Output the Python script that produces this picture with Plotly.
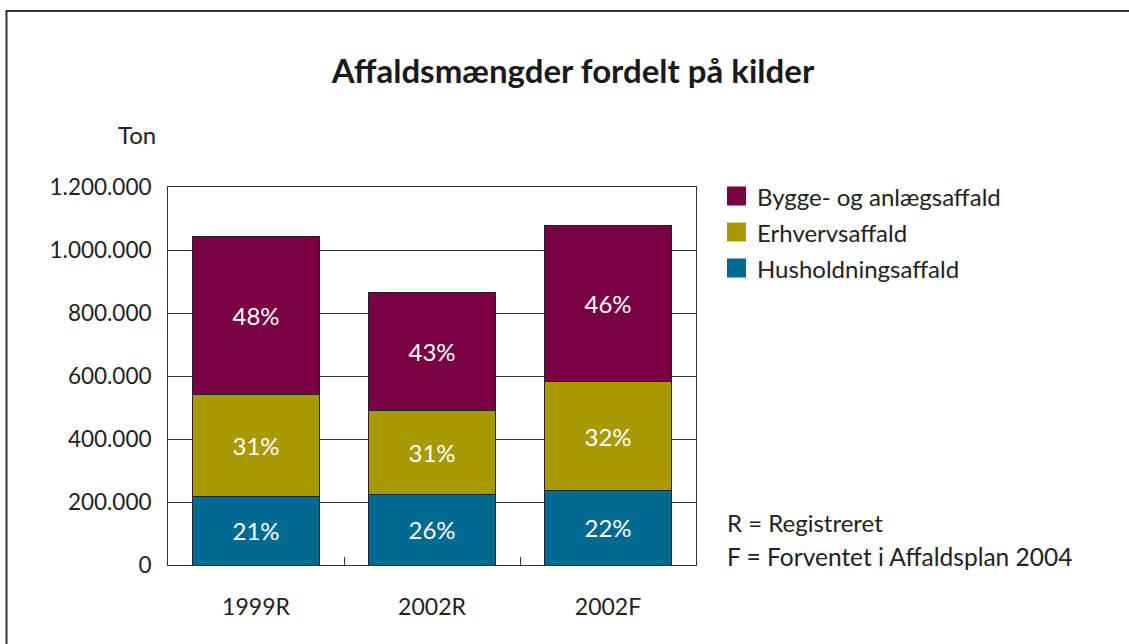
import plotly.graph_objects as go

categories = ["1999R", "2002R", "2002F"]
series_names = ["Husholdningsaffald", "Erhvervsaffald", "Bygge- og anlægsaffald"]
husholdning = [219000, 223000, 236000]
erhverv = [323000, 269000, 345000]
bygge = [500000, 372000, 497000]
husholdning_pct = ["21%", "26%", "22%"]
erhverv_pct = ["31%", "31%", "32%"]
bygge_pct = ["48%", "43%", "46%"]
colors = ["#006A91", "#A89A00", "#7A0044"]
y_ticks = [0, 200000, 400000, 600000, 800000, 1000000, 1200000]

FONT = "Lato"
TXT = "#222222"
W, H = 1129, 644
L, R, T, B = 168, 696, 187, 565


def px(x):
    return (x - L) / (R - L)


def py(y):
    return (B - y) / (B - T)


fig = go.Figure()
for name, vals, pct, col in zip(series_names, [husholdning, erhverv, bygge],
                                [husholdning_pct, erhverv_pct, bygge_pct], colors):
    fig.add_trace(go.Bar(
        x=categories, y=vals, name=name, text=pct,
        textposition="inside", insidetextanchor="middle",
        textfont=dict(family=FONT, size=24, color="white"),
        marker=dict(color=col, line=dict(color="#222222", width=1)),
        showlegend=False, hoverinfo="skip",
    ))

shapes = []
annotations = []
# outer frame
shapes.append(dict(type="rect", xref="paper", yref="paper",
                   x0=px(6.5), x1=px(1200), y0=py(11), y1=py(720),
                   line=dict(color="#333333", width=2), fillcolor="rgba(0,0,0,0)", layer="below"))

# manual legend (top to bottom: bygge, erhverv, husholdning)
leg_order = [2, 1, 0]
for i, idx in enumerate(leg_order):
    cy = 196 + 36 * i
    shapes.append(dict(type="rect", xref="paper", yref="paper",
                       x0=px(727), x1=px(746), y0=py(cy - 9.5), y1=py(cy + 9.5),
                       fillcolor=colors[idx], line=dict(width=0)))
    annotations.append(dict(text=series_names[idx], xref="paper", yref="paper",
                            x=px(755), y=py(cy), xanchor="left", yanchor="middle",
                            showarrow=False, font=dict(family=FONT, size=24, color=TXT)))

annotations.append(dict(text="R = Registreret", xref="paper", yref="paper",
                        x=px(725), y=py(522), xanchor="left", yanchor="middle",
                        showarrow=False, font=dict(family=FONT, size=24, color=TXT)))
annotations.append(dict(text="F = Forventet i Affaldsplan 2004", xref="paper", yref="paper",
                        x=px(725), y=py(556), xanchor="left", yanchor="middle",
                        showarrow=False, font=dict(family=FONT, size=24.5, color=TXT)))
annotations.append(dict(text="Ton", xref="paper", yref="paper",
                        x=px(158), y=py(135), xanchor="right", yanchor="middle",
                        showarrow=False, font=dict(family=FONT, size=24, color=TXT)))

fig.update_layout(
    width=W, height=H,
    barmode="stack", bargap=0.28,
    separators=",.",
    paper_bgcolor="white", plot_bgcolor="white",
    margin=dict(l=L, r=W - R, t=T, b=H - B, autoexpand=False),
    title=dict(text="<b>Affaldsmængder fordelt på kilder</b>", x=573 / W, xanchor="center",
               y=1 - 71 / H, yanchor="middle", yref="container",
               font=dict(family=FONT, size=33, color="#1a1a1a")),
    font=dict(family=FONT, size=23, color=TXT),
    shapes=shapes, annotations=annotations,
    uniformtext=dict(mode="show", minsize=10),
)
fig.update_xaxes(showline=True, linecolor="#333333", linewidth=1, mirror=True,
                 showgrid=False, ticks="inside", tickson="boundaries", ticklen=8,
                 tickcolor="#333333", tickfont=dict(family=FONT, size=23, color=TXT),
                 ticklabelstandoff=21, range=[-0.5, 2.5])
fig.update_yaxes(range=[0, 1200000], tickvals=y_ticks, tickformat=",d",
                 showline=True, linecolor="#333333", linewidth=1, mirror=True,
                 showgrid=True, gridcolor="#333333", gridwidth=1, zeroline=False,
                 ticks="", ticklabelstandoff=11,
                 tickfont=dict(family=FONT, size=22.5, color=TXT))

fig.write_html("out.html", config={"displayModeBar": False},
               post_script="document.body.style.margin='0';")
